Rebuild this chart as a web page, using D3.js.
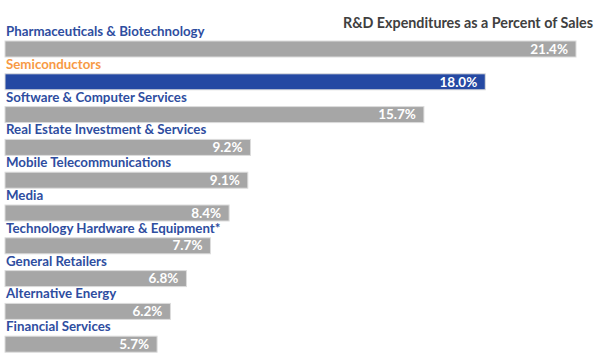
<!DOCTYPE html>
<html>
<head>
<meta charset="utf-8">
<script src="https://cdn.jsdelivr.net/npm/d3@7"></script>
<style>
  html, body { margin: 0; padding: 0; background: #ffffff; }
  svg { display: block; }
</style>
</head>
<body>
<svg id="chart" width="604" height="360"></svg>
<script>
const categories = [
  "Pharmaceuticals & Biotechnology",
  "Semiconductors",
  "Software & Computer Services",
  "Real Estate Investment & Services",
  "Mobile Telecommunications",
  "Media",
  "Technology Hardware & Equipment*",
  "General Retailers",
  "Alternative Energy",
  "Financial Services"
];
const values = [21.4, 18.0, 15.7, 9.2, 9.1, 8.4, 7.7, 6.8, 6.2, 5.7];
const highlighted = ["Semiconductors"];
const title = "R&D Expenditures as a Percent of Sales";

const data = categories.map((c, i) => ({ category: c, value: values[i] }));

const svg = d3.select("#chart");
const font = "Lato, 'Open Sans', sans-serif";

const x = d3.scaleLinear().domain([0, 21.4]).range([5, 576]);
const y = d3.scaleBand()
  .domain(categories)
  .range([41, 352.2])
  .paddingInner(0.512)
  .paddingOuter(0)
  .align(0);

svg.append("text")
  .attr("x", 593)
  .attr("y", 27.5)
  .attr("text-anchor", "end")
  .attr("font-family", font)
  .attr("font-weight", "bold")
  .attr("font-size", 14.3)
  .attr("fill", "#404040")
  .text(title);

const rows = svg.append("g").selectAll("g")
  .data(data)
  .join("g");

rows.append("rect")
  .attr("x", x(0))
  .attr("y", d => y(d.category))
  .attr("width", d => x(d.value) - x(0))
  .attr("height", y.bandwidth())
  .attr("fill", d => highlighted.includes(d.category) ? "#2549a3" : "#a6a6a6")
  .attr("stroke", "#dcdcdc")
  .attr("stroke-width", 1);

rows.append("text")
  .attr("x", 6)
  .attr("y", d => y(d.category) - 5)
  .attr("font-family", font)
  .attr("font-weight", "bold")
  .attr("font-size", 13.3)
  .attr("fill", d => highlighted.includes(d.category) ? "#f79a45" : "#2e4d9f")
  .text(d => d.category);

rows.append("text")
  .attr("x", d => x(d.value) - 8)
  .attr("y", d => y(d.category) + y.bandwidth() / 2 + 4.7)
  .attr("text-anchor", "end")
  .attr("font-family", font)
  .attr("font-weight", "bold")
  .attr("font-size", 13.5)
  .attr("fill", "#ffffff")
  .text(d => d.value.toFixed(1) + "%");
</script>
</body>
</html>
